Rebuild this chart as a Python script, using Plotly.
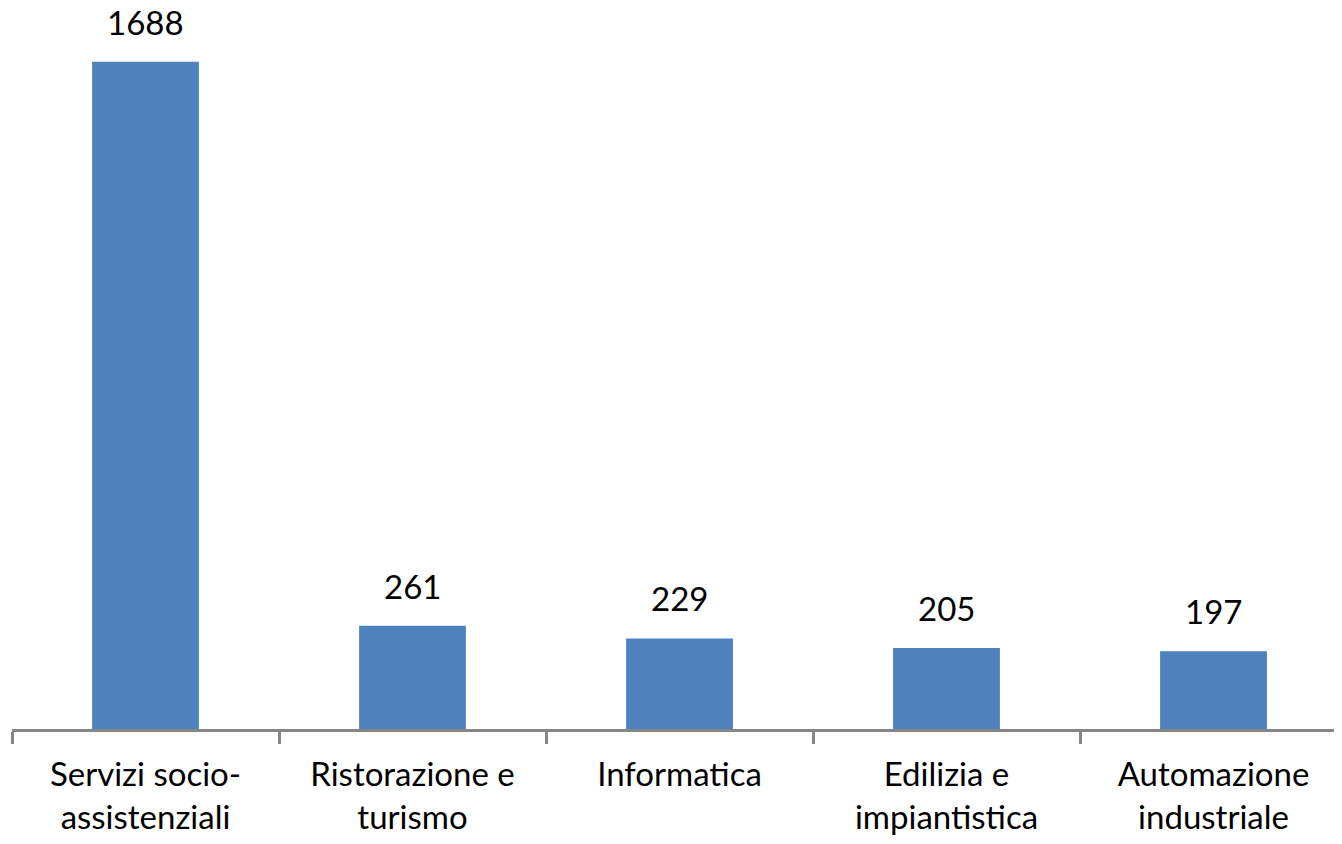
import plotly.graph_objects as go

categorie = [
    "Servizi socio-<br>assistenziali",
    "Ristorazione e<br>turismo",
    "Informatica",
    "Edilizia e<br>impiantistica",
    "Automazione<br>industriale",
]
valori = [1688, 261, 229, 205, 197]

FONT = "Lato, Carlito, Calibri, sans-serif"

fig = go.Figure(go.Bar(
    x=categorie, y=valori,
    marker=dict(color="#4F81BD", line=dict(width=0)),
    width=0.4,
    hoverinfo="x+y",
))

# etichette dei valori sopra le barre
for c, v in zip(categorie, valori):
    fig.add_annotation(
        x=c, y=v, text=str(v), showarrow=False,
        yanchor="bottom", yshift=18,
        font=dict(family=FONT, size=33, color="#000000"),
    )

fig.update_xaxes(
    showline=True, linecolor="#868686", linewidth=3,
    ticks="outside", tickson="boundaries", ticklen=12,
    tickwidth=3, tickcolor="#868686",
    tickfont=dict(family=FONT, size=33, color="#000000"),
    ticklabelstandoff=14,
    showgrid=False,
)
fig.update_yaxes(visible=False, range=[0, 1824], showgrid=False)

fig.update_layout(
    width=1342, height=844,
    margin=dict(l=4, r=3, t=0, b=123),
    plot_bgcolor="white", paper_bgcolor="white",
    showlegend=False,
    bargap=0.6,
)

fig.write_html("out.html")
